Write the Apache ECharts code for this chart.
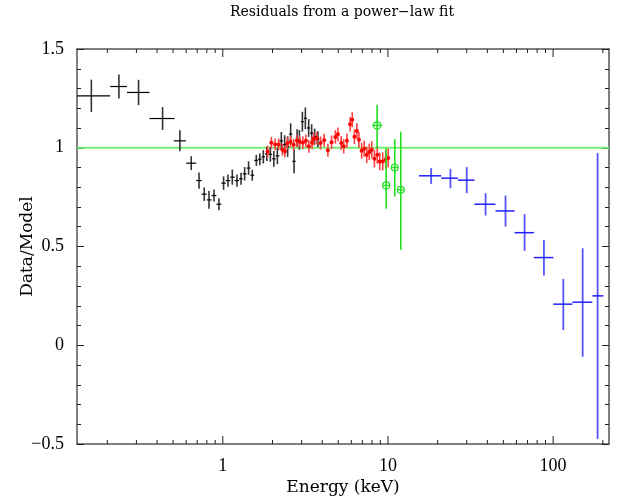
<!DOCTYPE html>
<html>
<head>
<meta charset="utf-8">
<title>Residuals from a power-law fit</title>
<script src="https://cdn.jsdelivr.net/npm/echarts@6/dist/echarts.min.js"></script>
<style>
  html, body { margin: 0; padding: 0; background: #fff; }
  #chart { width: 623px; height: 498px; }
</style>
</head>
<body>
<div id="chart"></div>
<script>
// axis ranges
const xRange = [0.131, 218];
const yRange = [-0.5, 1.5];
const xMajorTicks = [1, 10, 100];
const xMinorTicks = [0.2, 0.3, 0.4, 0.5, 0.6, 0.7, 0.8, 0.9,
  2, 3, 4, 5, 6, 7, 8, 9, 20, 30, 40, 50, 60, 70, 80, 90, 200];
const modelLevel = 1;

// black: [E, Elo, Ehi, ratio, err]
const blackPts = [
  [0.160, 0.125, 0.208, 1.263, 0.082],
  [0.235, 0.208, 0.263, 1.310, 0.061],
  [0.309, 0.263, 0.360, 1.280, 0.064],
  [0.432, 0.360, 0.510, 1.148, 0.058],
  [0.550, 0.505, 0.598, 1.035, 0.053],
  [0.644, 0.600, 0.691, 0.922, 0.035],
  [0.718, 0.691, 0.744, 0.834, 0.041],
  [0.772, 0.744, 0.800, 0.765, 0.034],
  [0.825, 0.800, 0.855, 0.736, 0.045],
  [0.885, 0.855, 0.915, 0.758, 0.030],
  [0.948, 0.915, 0.980, 0.714, 0.030],
  [1.011, 0.980, 1.043, 0.821, 0.034],
  [1.075, 1.043, 1.110, 0.834, 0.031],
  [1.142, 1.110, 1.180, 0.851, 0.038],
  [1.219, 1.180, 1.255, 0.834, 0.031],
  [1.289, 1.255, 1.320, 0.843, 0.030],
  [1.356, 1.320, 1.395, 0.868, 0.034],
  [1.433, 1.395, 1.470, 0.897, 0.034],
  [1.509, 1.470, 1.550, 0.861, 0.028],
  [1.596, 1.550, 1.635, 0.936, 0.028],
  [1.676, 1.635, 1.715, 0.942, 0.030],
  [1.760, 1.715, 1.800, 0.954, 0.034],
  [1.848, 1.800, 1.895, 0.969, 0.036],
  [1.941, 1.895, 1.990, 0.967, 0.038],
  [2.038, 1.990, 2.090, 0.944, 0.040],
  [2.140, 2.090, 2.200, 0.959, 0.042],
  [2.262, 2.200, 2.315, 1.035, 0.045],
  [2.369, 2.315, 2.420, 1.015, 0.048],
  [2.470, 2.420, 2.520, 1.006, 0.052],
  [2.576, 2.520, 2.640, 1.069, 0.055],
  [2.701, 2.640, 2.760, 0.931, 0.060],
  [2.817, 2.760, 2.860, 1.049, 0.045],
  [2.909, 2.860, 2.970, 1.040, 0.050],
  [3.033, 2.970, 3.100, 1.132, 0.050],
  [3.162, 3.100, 3.235, 1.149, 0.055],
  [3.311, 3.235, 3.380, 1.100, 0.045],
  [3.452, 3.380, 3.525, 1.074, 0.045],
  [3.600, 3.525, 3.680, 1.057, 0.040],
  [3.765, 3.680, 3.850, 1.043, 0.040]
];

// red: [E, dE, ratio, err]
const redPts = [
  [1.868, 0.025, 0.981, 0.030], [1.968, 0.025, 1.025, 0.030],
  [2.075, 0.027, 1.017, 0.030], [2.178, 0.028, 1.017, 0.030],
  [2.294, 0.030, 0.990, 0.030], [2.376, 0.030, 0.982, 0.030],
  [2.460, 0.031, 1.023, 0.030], [2.572, 0.033, 1.030, 0.030],
  [2.686, 0.034, 1.015, 0.030], [2.809, 0.036, 1.035, 0.030],
  [2.921, 0.037, 1.030, 0.030], [3.054, 0.039, 1.025, 0.032],
  [3.184, 0.040, 1.035, 0.032], [3.320, 0.042, 1.007, 0.032],
  [3.472, 0.044, 1.025, 0.032], [3.560, 0.045, 1.044, 0.032],
  [3.713, 0.047, 1.049, 0.032], [3.909, 0.050, 1.024, 0.033],
  [4.111, 0.052, 1.038, 0.033], [4.329, 0.055, 0.987, 0.033],
  [4.559, 0.058, 1.028, 0.034], [4.807, 0.061, 1.055, 0.034],
  [4.977, 0.063, 1.068, 0.035], [5.212, 0.066, 1.024, 0.035],
  [5.398, 0.068, 1.007, 0.036], [5.645, 0.072, 1.036, 0.036],
  [5.903, 0.075, 1.119, 0.037], [6.078, 0.077, 1.142, 0.038],
  [6.266, 0.080, 1.056, 0.038], [6.489, 0.082, 1.085, 0.039],
  [6.673, 0.085, 1.040, 0.040], [6.929, 0.088, 0.985, 0.040],
  [7.185, 0.091, 0.995, 0.041], [7.440, 0.094, 0.964, 0.042],
  [7.704, 0.098, 0.979, 0.042], [7.978, 0.101, 0.990, 0.043],
  [8.283, 0.105, 0.944, 0.044], [8.614, 0.109, 0.964, 0.045],
  [8.921, 0.113, 0.931, 0.045], [9.300, 0.118, 0.931, 0.046],
  [9.685, 0.123, 0.941, 0.047], [10.04, 0.127, 0.948, 0.048]
];

// green: [E, Elo, Ehi, ratio, lo, hi]
const greenPts = [
  [8.60, 8.02, 9.22, 1.113, 0.998, 1.218],
  [9.75, 9.35, 10.26, 0.809, 0.691, 0.998],
  [11.0, 10.6, 11.5, 0.900, 0.753, 1.044],
  [11.96, 11.5, 12.47, 0.787, 0.483, 1.081]
];

// blue: [E, Elo, Ehi, ratio, lo, hi]
const bluePts = [
  [18.27, 15.4, 21.0, 0.858, 0.817, 0.897],
  [23.9, 21.0, 26.5, 0.846, 0.795, 0.893],
  [30.0, 26.5, 33.4, 0.836, 0.770, 0.902],
  [39.0, 33.4, 44.8, 0.714, 0.657, 0.770],
  [51.5, 44.8, 58.4, 0.680, 0.601, 0.758],
  [67.2, 58.4, 76.5, 0.570, 0.478, 0.664],
  [88.0, 76.5, 100.3, 0.444, 0.353, 0.533],
  [115.3, 100.3, 130.8, 0.208, 0.077, 0.336],
  [151, 130.8, 172.8, 0.218, -0.058, 0.491],
  [186, 172.8, 201.4, 0.250, -0.475, 0.973]
];

const serif = 'Liberation Serif';
const nameFont = 'DejaVu Serif';

function crossRender(st) {
  return function (params, api) {
    const e = api.value(0), y = api.value(3);
    const l = api.coord([api.value(1), y]);
    const r = api.coord([api.value(2), y]);
    const b = api.coord([e, api.value(4)]);
    const t = api.coord([e, api.value(5)]);
    const c = api.coord([e, y]);
    const children = [
      { type: 'line', shape: { x1: b[0], y1: b[1], x2: t[0], y2: t[1] },
        style: { stroke: st.vColor, lineWidth: st.vWidth } },
      { type: 'line', shape: { x1: l[0], y1: l[1], x2: r[0], y2: r[1] },
        style: { stroke: st.hColor, lineWidth: st.hWidth } }
    ];
    if (st.dot) {
      children.push({ type: 'circle', shape: { cx: c[0], cy: c[1], r: st.dot },
        style: { fill: st.hColor } });
    }
    if (st.ring) {
      children.push({ type: 'circle', shape: { cx: c[0], cy: c[1], r: st.ring },
        style: { fill: 'none', stroke: st.hColor, lineWidth: 1.2 } });
    }
    return { type: 'group', children: children };
  };
}

function tickRender(len) {
  return function (params, api) {
    const e = api.value(0);
    const b = api.coord([e, yRange[0]]);
    const t = api.coord([e, yRange[1]]);
    return { type: 'group', children: [
      { type: 'line', shape: { x1: b[0], y1: b[1], x2: b[0], y2: b[1] - len },
        style: { stroke: '#222', lineWidth: 1 } },
      { type: 'line', shape: { x1: t[0], y1: t[1], x2: t[0], y2: t[1] + len },
        style: { stroke: '#222', lineWidth: 1 } }
    ] };
  };
}

const blackData = blackPts.map(p => [p[0], p[1], p[2], p[3], p[3] - p[4], p[3] + p[4]]);
const redData = redPts.map(p => [p[0], p[0] - p[1], p[0] + p[1], p[2], p[2] - p[3], p[2] + p[3]]);

const chart = echarts.init(document.getElementById('chart'));

const axisLine = { show: true, onZero: false, lineStyle: { color: '#555', width: 1.5 } };
const yFmt = v => (v < 0 ? '\u2212' + Math.abs(v) : String(v));

const option = {
  animation: false,
  backgroundColor: '#fff',
  graphic: [{
    type: 'text', x: 342, y: 5,
    style: { text: 'Residuals from a power\u2212law fit', textAlign: 'center',
      font: '14px "' + nameFont + '"', fill: '#000' }
  }],
  grid: { left: 77, right: 14, top: 49, bottom: 54, outerBoundsMode: 'none' },
  xAxis: [{
    type: 'log', logBase: 10, min: xRange[0], max: xRange[1], position: 'bottom',
    name: 'Energy (keV)', nameLocation: 'middle', nameGap: 35, nameMoveOverlap: false,
    nameTextStyle: { fontFamily: nameFont, fontSize: 17, color: '#000' },
    axisLine: axisLine, axisTick: { show: false }, splitLine: { show: false },
    axisLabel: { fontFamily: serif, fontSize: 18, color: '#000', margin: 13,
      showMinLabel: false, showMaxLabel: false },
    minorTick: { show: false }
  }, {
    type: 'log', logBase: 10, min: xRange[0], max: xRange[1], position: 'top',
    axisLine: axisLine, axisTick: { show: false }, splitLine: { show: false },
    axisLabel: { show: false }
  }],
  yAxis: [{
    type: 'value', min: yRange[0], max: yRange[1], interval: 0.5, position: 'left',
    name: 'Data/Model', nameLocation: 'middle', nameGap: 41, nameMoveOverlap: false,
    nameTextStyle: { fontFamily: nameFont, fontSize: 17, color: '#000' },
    axisLine: axisLine,
    axisTick: { show: true, inside: true, length: 7, lineStyle: { color: '#222' } },
    minorTick: { show: true, splitNumber: 5, length: 4, lineStyle: { color: '#222' } },
    splitLine: { show: false },
    axisLabel: { fontFamily: serif, fontSize: 18, color: '#000', margin: 13, formatter: yFmt }
  }, {
    type: 'value', min: yRange[0], max: yRange[1], interval: 0.5, position: 'right',
    axisLine: axisLine,
    axisTick: { show: true, inside: true, length: 7, lineStyle: { color: '#222' } },
    minorTick: { show: true, splitNumber: 5, length: 4, lineStyle: { color: '#222' } },
    splitLine: { show: false },
    axisLabel: { show: false }
  }],
  series: [
    {
      type: 'line', silent: true, symbol: 'none', z: 1,
      data: [[xRange[0], modelLevel], [xRange[1], modelLevel]],
      lineStyle: { color: '#72ee72', width: 2.2 }
    },
    {
      type: 'custom', clip: true, silent: true, z: 5,
      renderItem: tickRender(4),
      data: xMinorTicks.map(v => [v, yRange[0]])
    },
    {
      type: 'custom', clip: true, silent: true, z: 5,
      renderItem: tickRender(8),
      data: xMajorTicks.map(v => [v, yRange[0]])
    },
    {
      type: 'custom', clip: true, silent: true, z: 2,
      encode: { x: 0, y: 3 },
      renderItem: crossRender({ vColor: '#333', vWidth: 1.6, hColor: '#000', hWidth: 1.2 }),
      data: blackData
    },
    {
      type: 'custom', clip: true, silent: true, z: 3,
      encode: { x: 0, y: 3 },
      renderItem: crossRender({ vColor: '#ff4040', vWidth: 1.6, hColor: '#ff0000', hWidth: 1.2, dot: 2 }),
      data: redData
    },
    {
      type: 'custom', clip: true, silent: true, z: 3,
      encode: { x: 0, y: 3 },
      renderItem: crossRender({ vColor: '#22e022', vWidth: 1.6, hColor: '#22dd22', hWidth: 1.4, ring: 3.5 }),
      data: greenPts
    },
    {
      type: 'custom', clip: true, silent: true, z: 3,
      encode: { x: 0, y: 3 },
      renderItem: crossRender({ vColor: '#5555ff', vWidth: 1.8, hColor: '#2020ff', hWidth: 1.5 }),
      data: bluePts
    }
  ]
};

chart.setOption(option);
</script>
</body>
</html>
